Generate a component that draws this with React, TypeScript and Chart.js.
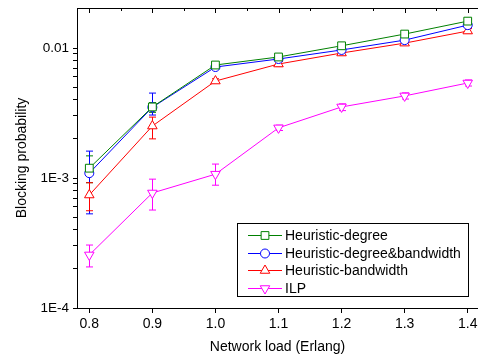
import React, { useEffect, useRef } from 'react';
import { Chart, registerables } from 'chart.js';
import { drawPoint } from 'chart.js/helpers';

Chart.register(...registerables);

const loads = [0.8, 0.9, 1.0, 1.1, 1.2, 1.3, 1.4];
const seriesNames = ['Heuristic-degree', 'Heuristic-degree&bandwidth', 'Heuristic-bandwidth', 'ILP'];

const degreeVals = [0.00119, 0.00352, 0.0074, 0.00853, 0.0104, 0.0128, 0.0161];
const degreeLo = [0.00092, 0.0032, 0.0071, 0.0082, 0.0100, 0.0123, 0.0155];
const degreeHi = [0.00148, 0.0038, 0.0077, 0.0089, 0.0108, 0.0133, 0.0167];

const degBwVals = [0.00109, 0.0035, 0.00714, 0.00823, 0.00966, 0.0115, 0.0150];
const degBwLo = [0.00053, 0.00305, 0.0069, 0.0079, 0.0093, 0.0111, 0.0144];
const degBwHi = [0.00161, 0.0045, 0.0074, 0.0086, 0.0100, 0.0120, 0.0157];

const bwVals = [0.00074, 0.00251, 0.00557, 0.00753, 0.00915, 0.0109, 0.0135];
const bwLo = [0.00056, 0.0020, 0.0054, 0.0072, 0.0088, 0.0105, 0.0130];
const bwHi = [0.00092, 0.00294, 0.0058, 0.0079, 0.0095, 0.0114, 0.0141];

const ilpVals = [0.000256, 0.000767, 0.00107, 0.00243, 0.00352, 0.00428, 0.00538];
const ilpLo = [0.000207, 0.000567, 0.00088, 0.00232, 0.0033, 0.00405, 0.0051];
const ilpHi = [0.000305, 0.00098, 0.00128, 0.00255, 0.00372, 0.00452, 0.00568];

const yMajorTicks = [0.0001, 0.001, 0.01];
const yMajorLabels = ['1E-4', '1E-3', '0.01'];
const xTickLabels = ['0.8', '0.9', '1.0', '1.1', '1.2', '1.3', '1.4'];

const FONT = "'Liberation Sans', Arial, sans-serif";

const stretchPlugin = {
  id: 'stretchRight',
  afterLayout(chart: any) {
    const a = chart.chartArea;
    const target = chart.width;
    if (a.right !== target) {
      a.right = target;
      a.width = a.right - a.left;
      const xs = chart.scales.x;
      xs.right = target;
      xs.width = xs.right - xs.left;
      xs.configure();
    }
  },
};

const errorBarPlugin = {
  id: 'errorBars',
  beforeDatasetsDraw(chart: any) {
    const ctx = chart.ctx;
    const xs = chart.scales.x;
    const ys = chart.scales.y;
    chart.data.datasets.forEach((ds: any) => {
      ctx.save();
      ctx.strokeStyle = ds.borderColor;
      ctx.lineWidth = 1;
      ds.data.forEach((p: any, i: number) => {
        const px = Math.round(xs.getPixelForValue(p.x)) + 0.5;
        const yl = ys.getPixelForValue(ds.errLo[i]);
        const yh = ys.getPixelForValue(ds.errHi[i]);
        ctx.beginPath();
        ctx.moveTo(px, yl);
        ctx.lineTo(px, yh);
        ctx.moveTo(px - 3.5, yl);
        ctx.lineTo(px + 3.5, yl);
        ctx.moveTo(px - 3.5, yh);
        ctx.lineTo(px + 3.5, yh);
        ctx.stroke();
      });
      ctx.restore();
    });
  },
};

const framePlugin = {
  id: 'frame',
  afterDraw(chart: any) {
    const ctx = chart.ctx;
    const a = chart.chartArea;
    const xs = chart.scales.x;
    ctx.save();
    ctx.strokeStyle = '#000';
    ctx.lineWidth = 1;
    ctx.beginPath();
    ctx.moveTo(a.left, a.top + 0.5);
    ctx.lineTo(a.right, a.top + 0.5);
    for (let k = 0; k <= 12; k++) {
      const v = loads[0] + k * 0.05;
      const px = Math.round(xs.getPixelForValue(v)) + 0.5;
      const len = k % 2 === 0 ? 5 : 3;
      ctx.moveTo(px, a.top);
      ctx.lineTo(px, a.top + len);
    }
    ctx.stroke();

    // legend inside plot
    const boxRight = a.right - 10;
    const boxBottom = a.bottom - 12;
    const boxW = 231;
    const boxH = 73;
    const bx = boxRight - boxW;
    const by = boxBottom - boxH;
    ctx.fillStyle = '#fff';
    ctx.fillRect(bx, by, boxW, boxH);
    ctx.strokeStyle = '#000';
    ctx.strokeRect(bx + 0.5, by + 0.5, boxW, boxH);
    ctx.font = `14px ${FONT}`;
    ctx.textBaseline = 'middle';
    ctx.textAlign = 'left';
    chart.data.datasets.forEach((ds: any, i: number) => {
      const ry = Math.round(by + 12 + i * 17.5) + 0.5;
      ctx.strokeStyle = ds.borderColor;
      ctx.lineWidth = 1;
      ctx.beginPath();
      ctx.moveTo(bx + 11, ry);
      ctx.lineTo(bx + 45, ry);
      ctx.stroke();
      ctx.fillStyle = '#fff';
      drawPoint(ctx, {
        pointStyle: ds.pointStyle,
        radius: ds.pointRadius,
        rotation: ds.pointRotation || 0,
        borderWidth: 1,
      }, bx + 28, ry);
      ctx.fillStyle = '#000';
      ctx.fillText(ds.label, bx + 48, ry + 1);
    });
    ctx.restore();
  },
};

function mk(label: string, vals: number[], lo: number[], hi: number[], color: string, style: string, radius: number, rot = 0) {
  return {
    label,
    data: loads.map((x, i) => ({ x, y: vals[i] })),
    errLo: lo,
    errHi: hi,
    borderColor: color,
    backgroundColor: '#fff',
    borderWidth: 1,
    pointStyle: style,
    pointRadius: radius,
    pointRotation: rot,
    pointBorderWidth: 1,
    pointBackgroundColor: '#fff',
    pointBorderColor: color,
    showLine: true,
    tension: 0,
  };
}

export default function App() {
  const ref = useRef<HTMLCanvasElement>(null);
  useEffect(() => {
    if (!ref.current) return;
    const chart = new Chart(ref.current, {
      type: 'scatter',
      data: {
        datasets: [
          mk(seriesNames[0], degreeVals, degreeLo, degreeHi, '#008000', 'rect', 5.5),
          mk(seriesNames[1], degBwVals, degBwLo, degBwHi, '#0000ff', 'circle', 4.5),
          mk(seriesNames[2], bwVals, bwLo, bwHi, '#ff0000', 'triangle', 5.5),
          mk(seriesNames[3], ilpVals, ilpLo, ilpHi, '#ff00ff', 'triangle', 5.5, 180),
        ] as any,
      },
      options: {
        animation: false,
        responsive: false,
        layout: { padding: { top: 8, left: 0, right: 0, bottom: 0 } },
        plugins: { legend: { display: false }, tooltip: { enabled: false } },
        scales: {
          x: {
            type: 'linear',
            min: 0.7805,
            max: 1.4163,
            afterBuildTicks: (s: any) => { s.ticks = loads.map((v) => ({ value: v })); },
            afterFit: (s: any) => { s.height = 48; s.paddingLeft = 0; s.paddingRight = 0; },
            ticks: {
              autoSkip: false,
              maxRotation: 0,
              padding: 3,
              color: '#000',
              font: { family: FONT, size: 14 },
              callback: (v: any) => {
                const i = loads.findIndex((l) => Math.abs(l - Number(v)) < 1e-6);
                return i >= 0 ? xTickLabels[i] : '';
              },
            },
            grid: { drawOnChartArea: false, drawTicks: true, tickLength: 5, color: '#000' },
            border: { display: true, color: '#000', width: 1 },
            title: {
              display: true,
              text: 'Network load (Erlang)',
              color: '#000',
              font: { family: FONT, size: 14 },
              padding: { top: 0, bottom: 0 },
            },
          },
          y: {
            type: 'logarithmic',
            min: 0.0001,
            max: 0.02031,
            afterBuildTicks: (s: any) => {
              const t: any[] = [];
              for (const d of [0.0001, 0.001]) {
                for (let m = 1; m <= 9; m++) t.push({ value: d * m, major: m === 1 });
              }
              t.push({ value: 0.01, major: true });
              s.ticks = t;
            },
            afterFit: (s: any) => { s.width = 77; s.paddingTop = 0; s.paddingBottom = 0; },
            ticks: {
              autoSkip: false,
              padding: 4,
              color: '#000',
              font: { family: FONT, size: 13.5 },
              callback: (v: any) => {
                const i = yMajorTicks.findIndex((m) => Math.abs(m - Number(v)) / m < 1e-6);
                return i >= 0 ? yMajorLabels[i] : '';
              },
            },
            grid: { drawOnChartArea: false, drawTicks: true, tickLength: 4, color: '#000' },
            border: { display: true, color: '#000', width: 1 },
            title: {
              display: true,
              text: 'Blocking probability',
              color: '#000',
              font: { family: FONT, size: 14 },
              padding: { top: 14, bottom: 0 },
            },
          },
        },
      } as any,
      plugins: [stretchPlugin, errorBarPlugin, framePlugin],
    });
    return () => chart.destroy();
  }, []);
  return (
    <div style={{ position: 'fixed', left: 0, top: 0, width: 478, height: 356, background: '#fff' }}>
      <canvas ref={ref} width={478} height={356} />
    </div>
  );
}
